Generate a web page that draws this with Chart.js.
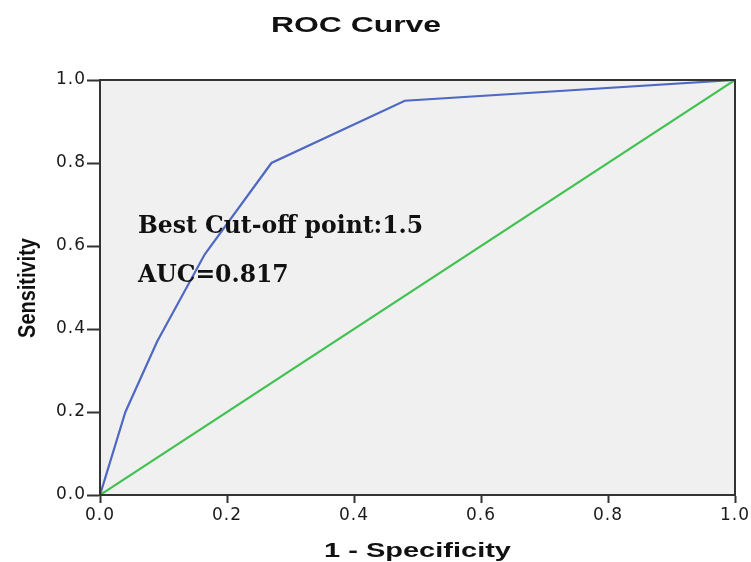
<!DOCTYPE html>
<html>
<head>
<meta charset="utf-8">
<script src="https://cdn.jsdelivr.net/npm/chart.js@4/dist/chart.umd.min.js"></script>
<style>
  html, body { margin: 0; padding: 0; background: #fff; }
  #wrap { width: 751px; height: 562px; position: relative; }
</style>
</head>
<body>
<div id="wrap"><canvas id="rocChart"></canvas></div>
<script>
// ROC curve
const rocX = [0, 0.04, 0.09, 0.165, 0.27, 0.48, 1];
const rocY = [0, 0.2, 0.37, 0.58, 0.8, 0.95, 1];
const refX = [0, 1];
const refY = [0, 1];
const tickValues = [0, 0.2, 0.4, 0.6, 0.8, 1];

const chartTitle = 'ROC Curve';
const xTitle = '1 - Specificity';
const yTitle = 'Sensitivity';
const notes = ['Best Cut-off point:1.5', 'AUC=0.817'];

const toPoints = (xs, ys) => xs.map((x, i) => ({ x: x, y: ys[i] }));

// grey panel behind the plot + frame on all sides
const panelPlugin = {
    id: 'panel',
    beforeDraw(chart) {
        const { ctx, chartArea: a } = chart;
        ctx.save();
        ctx.fillStyle = '#f0f0f0';
        ctx.fillRect(a.left, a.top, a.right - a.left, a.bottom - a.top);
        ctx.restore();
        ctx.letterSpacing = '1px';
    },
    afterDraw(chart) {
        const { ctx, chartArea: a } = chart;
        ctx.save();
        ctx.letterSpacing = '0px';
        ctx.strokeStyle = '#333';
        ctx.lineWidth = 2;
        ctx.strokeRect(a.left, a.top, a.right - a.left, a.bottom - a.top);
        ctx.restore();
    }
};

// titles (stretched sans) and the note in the plot
const textPlugin = {
    id: 'texts',
    afterDraw(chart) {
        const { ctx, chartArea: a } = chart;
        ctx.save();
        ctx.letterSpacing = '0px';
        ctx.fillStyle = '#111';
        ctx.textAlign = 'center';
        ctx.textBaseline = 'alphabetic';

        ctx.save();
        ctx.translate(356, 32);
        ctx.scale(1.45, 1);
        ctx.font = 'bold 22px "Liberation Sans", Arial, sans-serif';
        ctx.fillText(chartTitle, 0, 0);
        ctx.restore();

        ctx.save();
        ctx.translate((a.left + a.right) / 2, 557);
        ctx.scale(1.45, 1);
        ctx.font = 'bold 20px "Liberation Sans", Arial, sans-serif';
        ctx.fillText(xTitle, 0, 0);
        ctx.restore();

        ctx.save();
        ctx.translate(35, 288);
        ctx.rotate(-Math.PI / 2);
        ctx.scale(0.95, 1.1);
        ctx.font = 'bold 21px "Liberation Sans", Arial, sans-serif';
        ctx.fillText(yTitle, 0, 0);
        ctx.restore();

        ctx.textAlign = 'left';
        ctx.font = 'bold 23.5px "DejaVu Serif", "Liberation Serif", serif';
        ctx.fillText(notes[0], 138, 233);
        ctx.fillText(notes[1], 138, 282);
        ctx.restore();
    }
};

const tickFont = { family: 'DejaVu Sans', size: 17 };

new Chart(document.getElementById('rocChart'), {
    type: 'line',
    data: {
        datasets: [
            {
                label: 'ROC',
                data: toPoints(rocX, rocY),
                borderColor: '#4f68c2',
                borderWidth: 2.2,
                pointRadius: 0,
                tension: 0,
                fill: false
            },
            {
                label: 'Reference',
                data: toPoints(refX, refY),
                borderColor: '#3fc24f',
                borderWidth: 2.2,
                pointRadius: 0,
                tension: 0,
                fill: false
            }
        ]
    },
    options: {
        responsive: true,
        maintainAspectRatio: false,
        animation: false,
        layout: { padding: { top: 80, right: 16, left: 0, bottom: 0 } },
        plugins: {
            legend: { display: false },
            title: { display: false },
            tooltip: { enabled: false }
        },
        scales: {
            x: {
                type: 'linear',
                min: 0,
                max: 1,
                afterBuildTicks(scale) { scale.ticks = tickValues.map(v => ({ value: v })); },
                afterFit(scale) { scale.height = 67; },
                ticks: {
                    font: tickFont,
                    color: '#1a1a1a',
                    padding: 2,
                    maxRotation: 0,
                    callback: v => v.toFixed(1)
                },
                grid: { drawOnChartArea: false, tickLength: 8, tickWidth: 2, tickColor: '#333' },
                border: { color: '#333', width: 2 }
            },
            y: {
                type: 'linear',
                min: 0,
                max: 1,
                afterBuildTicks(scale) { scale.ticks = tickValues.map(v => ({ value: v })); },
                afterFit(scale) { scale.width = 100; },
                ticks: {
                    font: tickFont,
                    color: '#1a1a1a',
                    padding: 1,
                    callback: v => v.toFixed(1)
                },
                grid: { drawOnChartArea: false, tickLength: 13, tickWidth: 2, tickColor: '#333' },
                border: { color: '#333', width: 2 }
            }
        }
    },
    plugins: [panelPlugin, textPlugin]
});
</script>
</body>
</html>
